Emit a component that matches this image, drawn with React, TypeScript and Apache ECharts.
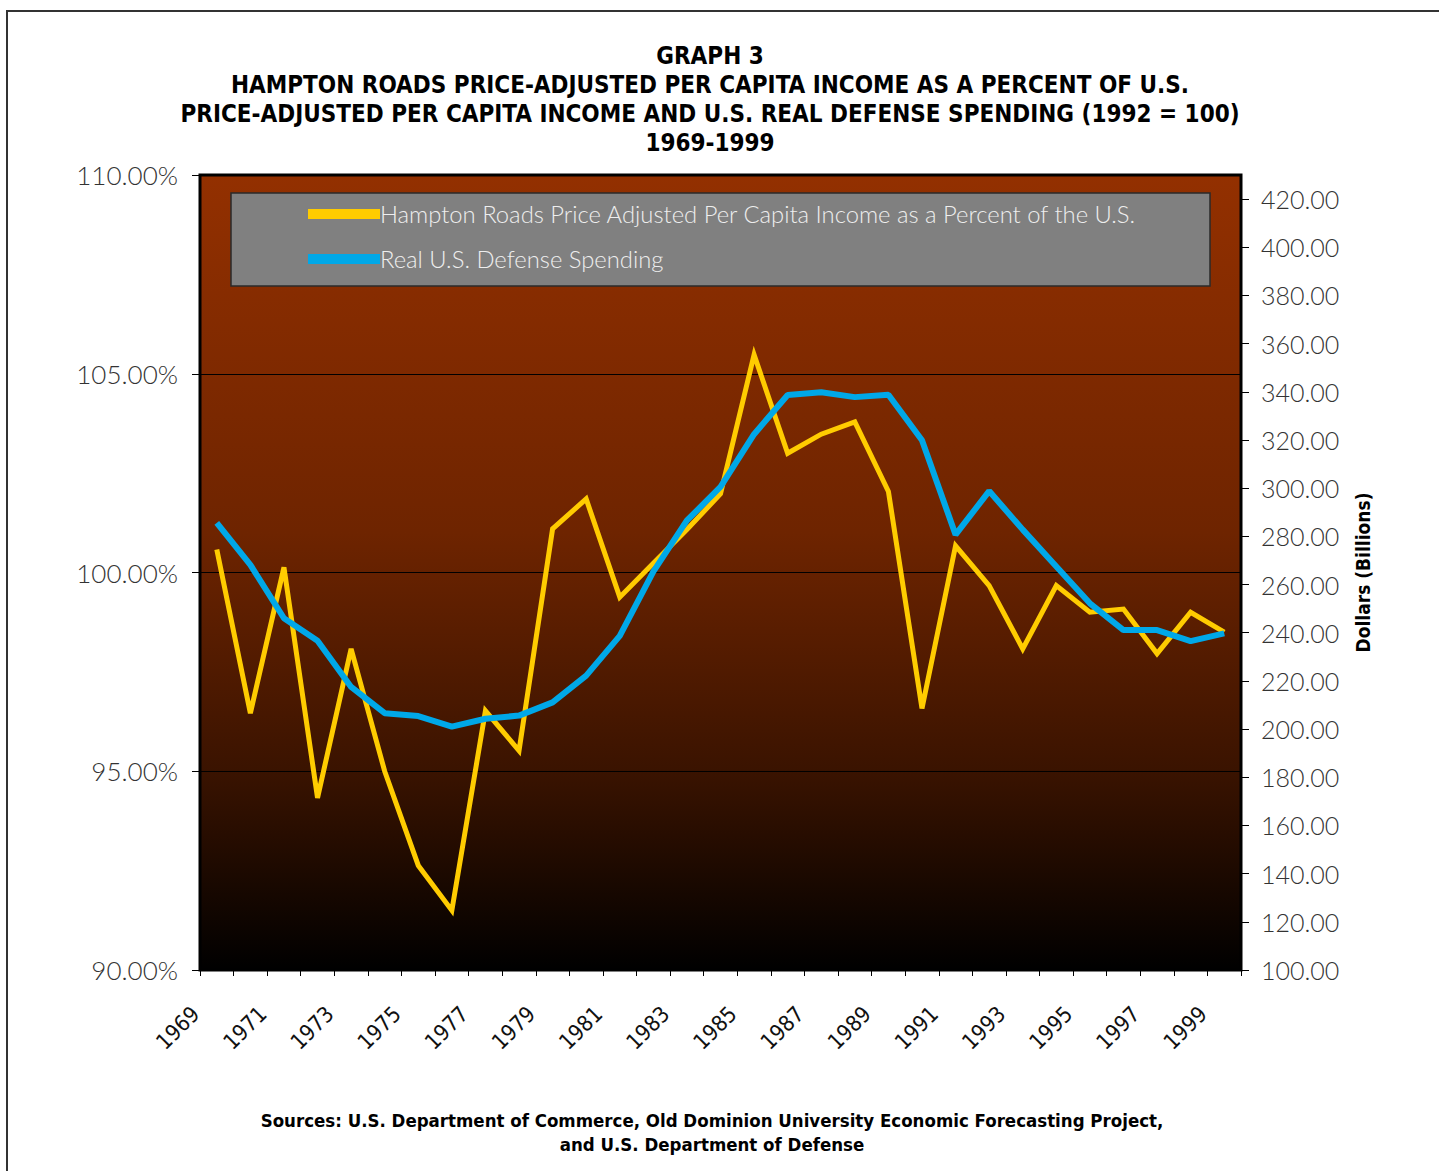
import React, { useEffect, useRef } from 'react';
import * as echarts from 'echarts';

const years = [
  '1969', '1970', '1971', '1972', '1973', '1974', '1975', '1976', '1977', '1978',
  '1979', '1980', '1981', '1982', '1983', '1984', '1985', '1986', '1987', '1988',
  '1989', '1990', '1991', '1992', '1993', '1994', '1995', '1996', '1997', '1998', '1999',
];

const hamptonPct = [
  100.58, 96.46, 100.13, 94.33, 98.08, 95.0, 92.63, 91.5, 96.52, 95.52,
  101.1, 101.85, 99.38, 100.23, 101.08, 101.98, 105.48, 103.0, 103.48, 103.79,
  102.04, 96.58, 100.67, 99.67, 98.08, 99.67, 99.0, 99.08, 97.96, 99.0, 98.5,
];

const defenseSpending = [
  285.6, 268.2, 246.0, 236.7, 217.5, 206.6, 205.4, 201.0, 204.3, 205.6,
  211.1, 222.2, 238.7, 265.4, 286.6, 300.5, 322.4, 338.7, 339.8, 337.8,
  338.8, 319.9, 280.7, 298.8, 282.8, 267.5, 252.2, 241.1, 241.1, 236.5, 239.7,
];

const seriesNames = [
  'Hampton Roads Price Adjusted Per Capita Income as a Percent of the U.S.',
  'Real U.S. Defense Spending',
];

const titleLines = [
  'GRAPH 3',
  'HAMPTON ROADS PRICE-ADJUSTED PER CAPITA INCOME AS A PERCENT OF U.S.',
  'PRICE-ADJUSTED PER CAPITA INCOME AND U.S. REAL DEFENSE SPENDING (1992 = 100)',
  '1969-1999',
];

const sourceLines = [
  'Sources: U.S. Department of Commerce, Old Dominion University Economic Forecasting Project,',
  'and U.S. Department of Defense',
];

const rightAxisName = 'Dollars (Billions)';

const condensed = '"Liberation Sans Narrow", "DejaVu Sans Condensed", "Arial Narrow", sans-serif';
const light = 'Lato, "Open Sans", sans-serif';

export default function App() {
  const ref = useRef<HTMLDivElement>(null);

  useEffect(() => {
    if (!ref.current) return;
    const chart = echarts.init(ref.current, null, { renderer: 'svg' });
    chart.setOption({
      animation: false,
      backgroundColor: '#ffffff',
      title: [
        {
          text: titleLines.join('\n'),
          left: 710,
          top: 41,
          textAlign: 'center',
          padding: 0,
          textStyle: {
            fontFamily: condensed,
            fontWeight: 'bold',
            fontSize: 24,
            lineHeight: 29,
            color: '#000',
          },
        },
        {
          text: sourceLines.join('\n'),
          left: 712,
          top: 1108,
          textAlign: 'center',
          padding: 0,
          textStyle: {
            fontFamily: condensed,
            fontWeight: 'bold',
            fontSize: 18.5,
            lineHeight: 24,
            color: '#000',
          },
        },
      ],
      graphic: [
        {
          type: 'rect',
          shape: { x: 7, y: 11, width: 1450, height: 1200 },
          style: { fill: 'none', stroke: '#333', lineWidth: 2 },
          z: 0,
        },
        {
          type: 'rect',
          shape: { x: 231, y: 193, width: 979, height: 93 },
          style: { fill: '#808080', stroke: '#2a2a2a', lineWidth: 1.5 },
          z: 5,
        },
      ],
      legend: {
        orient: 'vertical',
        left: 308,
        top: 199,
        padding: 0,
        itemWidth: 72,
        itemHeight: 10,
        itemGap: 15,
        icon: 'rect',
        data: [
          { name: seriesNames[0], itemStyle: { color: '#FFCC00' } },
          { name: seriesNames[1], itemStyle: { color: '#00A8E8' } },
        ],
        textStyle: {
          fontFamily: light,
          fontWeight: 300,
          fontSize: 23.8,
          lineHeight: 30,
          color: '#eeeeee',
          padding: [0, 0, 0, -5],
        },
        z: 10,
      },
      grid: {
        left: 200,
        right: 198,
        top: 175,
        bottom: 201,
        show: true,
        borderColor: '#000',
        borderWidth: 3,
        backgroundColor: new echarts.graphic.LinearGradient(0, 0, 0, 1, [
          { offset: 0, color: '#933000' },
          { offset: 0.45, color: '#6E2400' },
          { offset: 0.75, color: '#3A1300' },
          { offset: 1, color: '#000000' },
        ]),
      },
      xAxis: {
        type: 'category',
        data: years,
        boundaryGap: true,
        axisLine: { show: true, lineStyle: { color: '#000', width: 2 } },
        axisTick: { show: true, interval: 0, length: 6, lineStyle: { color: '#000' } },
        axisLabel: {
          interval: 1,
          rotate: 45,
          margin: 19,
          padding: [0, 30, 0, 0],
          fontFamily: condensed,
          fontSize: 22,
          color: '#111',
        },
        splitLine: { show: false },
      },
      yAxis: [
        {
          type: 'value',
          min: 90,
          max: 110,
          interval: 5,
          position: 'left',
          axisLine: { show: true, lineStyle: { color: '#000', width: 2 } },
          axisTick: { show: true, length: 8, lineStyle: { color: '#000' } },
          axisLabel: {
            margin: 22,
            fontFamily: light,
            fontWeight: 300,
            fontSize: 26,
            color: '#333',
            formatter: (v: number) => v.toFixed(2) + '%',
          },
          splitLine: { show: true, lineStyle: { color: '#000', width: 1 } },
        },
        {
          type: 'value',
          min: 100,
          max: 430,
          interval: 20,
          position: 'right',
          name: rightAxisName,
          nameLocation: 'middle',
          nameRotate: 90,
          nameGap: 112,
          nameTextStyle: {
            fontFamily: condensed,
            fontWeight: 'bold',
            fontSize: 19,
            color: '#000',
          },
          axisLine: { show: true, lineStyle: { color: '#000', width: 2 } },
          axisTick: { show: true, length: 8, lineStyle: { color: '#000' } },
          axisLabel: {
            margin: 20,
            showMaxLabel: false,
            fontFamily: light,
            fontWeight: 300,
            fontSize: 25,
            color: '#333',
            formatter: (v: number) => (v > 420 ? '' : v.toFixed(2)),
          },
          splitLine: { show: false },
        },
      ],
      series: [
        {
          name: seriesNames[0],
          type: 'line',
          yAxisIndex: 0,
          data: hamptonPct,
          symbol: 'none',
          color: '#FFCC00',
          lineStyle: { color: '#FFCC00', width: 5, join: 'miter' },
          z: 2,
        },
        {
          name: seriesNames[1],
          type: 'line',
          yAxisIndex: 1,
          data: defenseSpending,
          symbol: 'none',
          color: '#00A8E8',
          lineStyle: { color: '#00A8E8', width: 6 },
          z: 3,
        },
      ],
    });
    return () => chart.dispose();
  }, []);

  return (
    <div
      ref={ref}
      style={{ position: 'absolute', left: 0, top: 0, width: 1439, height: 1171 }}
    />
  );
}
